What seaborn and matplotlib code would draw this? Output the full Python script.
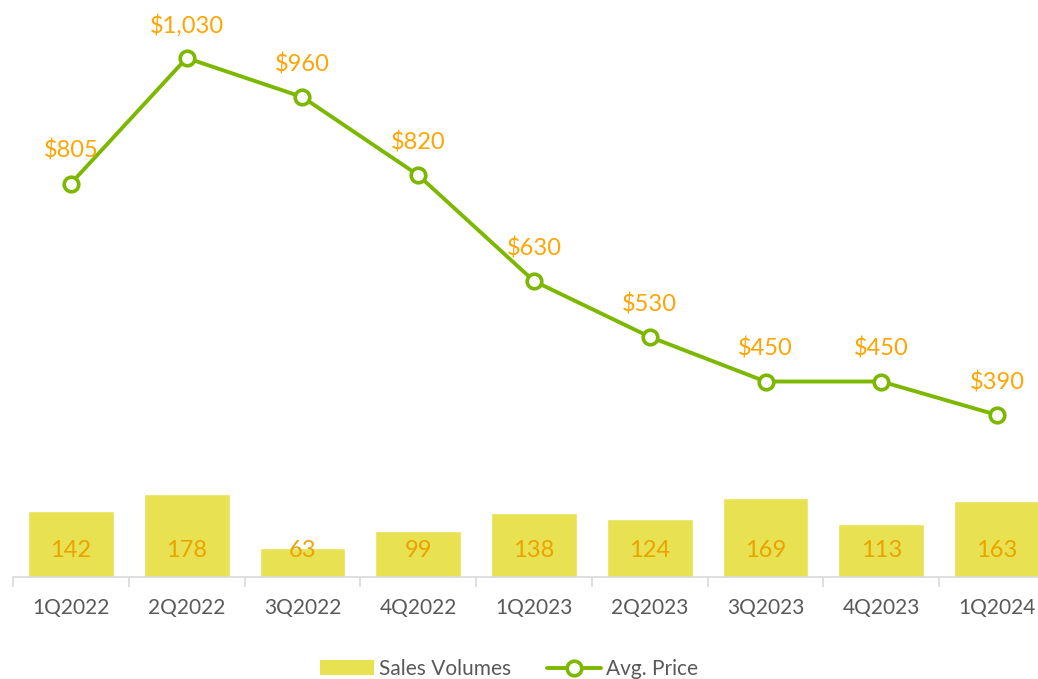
import pandas as pd
import matplotlib.pyplot as plt
import matplotlib.transforms as mtransforms
from matplotlib.patches import Patch
from matplotlib.lines import Line2D
import seaborn as sns

# chart data
quarters = ['1Q2022', '2Q2022', '3Q2022', '4Q2022', '1Q2023',
            '2Q2023', '3Q2023', '4Q2023', '1Q2024']
sales_volumes = [142, 178, 63, 99, 138, 124, 169, 113, 163]
avg_price = [805, 1030, 960, 820, 630, 530, 450, 450, 390]

BAR_COLOR = '#E8E152'
LINE_COLOR = '#7DB800'
LABEL_COLOR = '#FFA400'
BAR_LABEL_COLOR = '#EBA300'
TEXT_GRAY = '#595959'

df = pd.DataFrame({'quarter': quarters, 'volume': sales_volumes, 'price': avg_price})

sns.set_style('white')
plt.rcParams['font.family'] = ['Lato', 'DejaVu Sans']

fig = plt.figure(figsize=(10.38, 6.79), dpi=100)
# plot area is a bit wider than the picture on the right, like the original crop
ax = fig.add_axes([13 / 1038, 102 / 679, 1042 / 1038, 577 / 679])

sns.barplot(data=df, x='quarter', y='volume', color=BAR_COLOR, width=0.74,
            saturation=1, ax=ax)
ax.set_ylim(0, 1238)

# bar labels sit near the base of each bar
blend = mtransforms.blended_transform_factory(ax.transData, ax.transAxes)
for i, v in enumerate(sales_volumes):
    ax.text(i, 0.046, str(v), transform=blend, ha='center', va='center',
            fontsize=17, color=BAR_LABEL_COLOR)

ax2 = ax.twinx()
sns.pointplot(data=df, x='quarter', y='price', color=LINE_COLOR, ax=ax2,
              markers='o', linestyles='-', markersize=10.5, markerfacecolor='white',
              markeredgewidth=2.6, linewidth=2.8)
ax2.set_ylim(99.5, 1134)

for i, p in enumerate(avg_price):
    ax2.annotate(f'${p:,}', (i, p), xytext=(0, 23.5), textcoords='offset points',
                 ha='center', va='center', fontsize=17, color=LABEL_COLOR)

for a in (ax, ax2):
    a.set_xlabel('')
    a.set_ylabel('')
    a.set_yticks([])
    for s in ['top', 'right', 'left']:
        a.spines[s].set_visible(False)
ax2.spines['bottom'].set_visible(False)

ax.set_xlim(-0.5, len(quarters) - 0.5)
ax.spines['bottom'].set_color('#D9D9D9')
ax.spines['bottom'].set_linewidth(1.2)
ax.set_xticks(range(len(quarters)))
ax.set_xticklabels(quarters)
ax.tick_params(axis='x', which='major', length=0, pad=15, labelsize=15,
               labelcolor=TEXT_GRAY)
# boundary ticks between categories
ax.set_xticks([i - 0.5 for i in range(len(quarters) + 1)], minor=True)
ax.tick_params(axis='x', which='minor', length=7, width=1.2, color='#D9D9D9',
               bottom=True)

handles = [Patch(facecolor=BAR_COLOR, edgecolor='none', label='Sales Volumes'),
           Line2D([], [], color=LINE_COLOR, lw=2.8, marker='o', markersize=10.5,
                  markerfacecolor='white', markeredgewidth=2.6, label='Avg. Price')]
fig.legend(handles=handles, loc='center', bbox_to_anchor=(509 / 1038, 1 - 669 / 679),
           ncol=2, frameon=False, fontsize=15, labelcolor=TEXT_GRAY,
           handlelength=2.6, handletextpad=0.25, columnspacing=1.7)

fig.savefig('out.png', dpi=100)
